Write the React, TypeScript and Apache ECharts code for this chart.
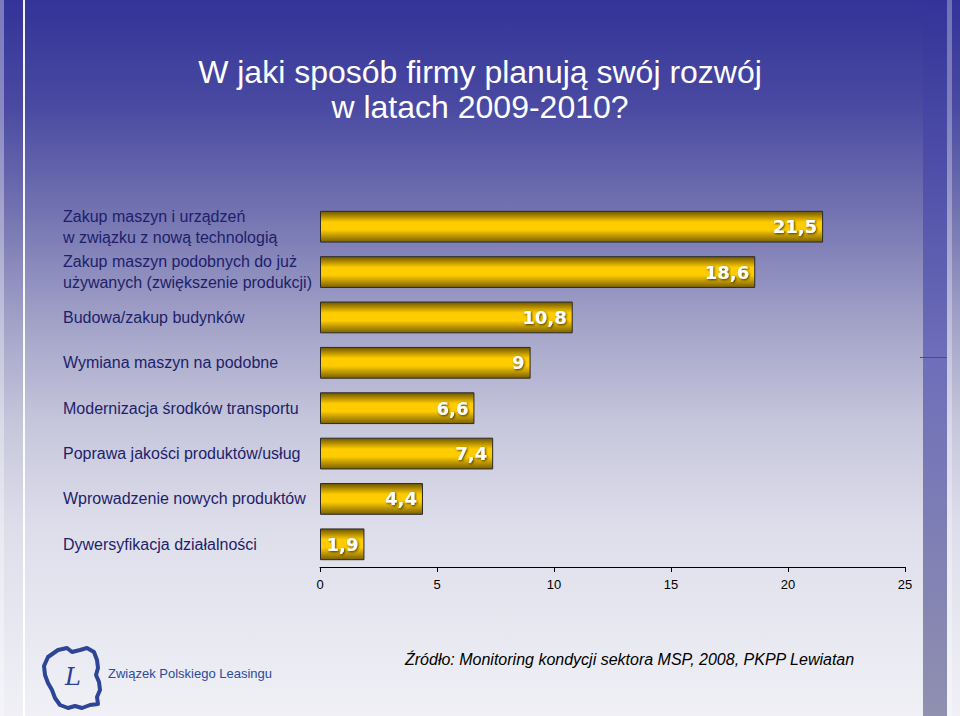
import React, { useEffect, useRef } from "react";
import * as echarts from "echarts";

const categories = [
  "Zakup maszyn i urządzeń\nw związku z nową technologią",
  "Zakup maszyn podobnych do już\nużywanych (zwiększenie produkcji)",
  "Budowa/zakup budynków",
  "Wymiana maszyn na podobne",
  "Modernizacja środków transportu",
  "Poprawa jakości produktów/usług",
  "Wprowadzenie nowych produktów",
  "Dywersyfikacja działalności",
];
const values = [21.5, 18.6, 10.8, 9, 6.6, 7.4, 4.4, 1.9];
const xTicks = [0, 5, 10, 15, 20, 25];
const titleLines = ["W jaki sposób firmy planują swój rozwój", "w latach 2009-2010?"];
const sourceText = "Źródło: Monitoring kondycji sektora MSP, 2008, PKPP Lewiatan";
const logoText = "Związek Polskiego Leasingu";

const polandOutline: number[][] = [
  [48, 657], [58, 650], [67, 648], [72, 652], [80, 650], [87, 648], [94, 652],
  [97, 660], [98, 668], [96, 675], [99, 682], [100, 690], [97, 697], [98, 704],
  [90, 705], [82, 708], [75, 706], [68, 708], [60, 705], [55, 698], [52, 690],
  [48, 683], [45, 675], [44, 666],
];

export default function App() {
  const ref = useRef<HTMLDivElement>(null);
  useEffect(() => {
    if (!ref.current) return;
    const chart = echarts.init(ref.current, null, { renderer: "svg" });
    const font = "'Liberation Sans', Arial, sans-serif";
    chart.setOption({
      animation: false,
      backgroundColor: new echarts.graphic.LinearGradient(0, 0, 0, 1, [
        { offset: 0, color: "#333399" },
        { offset: 0.15, color: "#4a4aa2" },
        { offset: 0.3, color: "#7474b2" },
        { offset: 0.45, color: "#a2a2c8" },
        { offset: 0.6, color: "#c8c8dd" },
        { offset: 0.75, color: "#dfdfec" },
        { offset: 1, color: "#f0f0f6" },
      ]),
      grid: {
        left: 320,
        right: 55,
        top: 204,
        bottom: 149,
        containLabel: false,
        outerBoundsMode: "none",
      },
      xAxis: {
        type: "value",
        min: 0,
        max: 25,
        interval: 5,
        axisLine: { show: true, lineStyle: { color: "#000", width: 1 } },
        axisTick: { show: true, length: 5, lineStyle: { color: "#000" } },
        splitLine: { show: false },
        axisLabel: {
          color: "#000",
          fontSize: 13,
          fontFamily: font,
          margin: 11,
          formatter: (v: number) => (xTicks.includes(v) ? String(v) : ""),
        },
      },
      yAxis: {
        type: "category",
        inverse: true,
        data: categories,
        axisLine: { show: false },
        axisTick: { show: false },
        axisLabel: {
          align: "left",
          margin: 257,
          color: "#1e1e6a",
          fontSize: 16,
          lineHeight: 21,
          fontFamily: font,
        },
      },
      series: [
        {
          type: "bar",
          data: values,
          barCategoryGap: "30%",
          itemStyle: {
            color: new echarts.graphic.LinearGradient(0, 0, 0, 1, [
              { offset: 0, color: "#6e5600" },
              { offset: 0.35, color: "#ffcc00" },
              { offset: 0.6, color: "#ffcc00" },
              { offset: 1, color: "#7a6000" },
            ]),
            borderColor: "#2a2a2a",
            borderWidth: 1,
          },
          label: {
            show: true,
            position: "insideRight",
            distance: 6,
            color: "#ffffff",
            fontSize: 18,
            fontWeight: "bold",
            fontFamily: "'DejaVu Sans', sans-serif",
            textShadowColor: "rgba(40,30,0,0.8)",
            textShadowBlur: 2,
            textShadowOffsetX: 1,
            textShadowOffsetY: 1,
            formatter: (p: any) => String(p.value).replace(".", ","),
          },
        },
      ],
      graphic: [
        {
          type: "rect",
          shape: { x: 0, y: 0, width: 4, height: 716 },
          style: { fill: "rgba(255,255,255,0.35)" },
          silent: true,
        },
        {
          type: "rect",
          shape: { x: 23, y: 0, width: 2, height: 716 },
          style: { fill: "rgba(255,255,255,0.95)" },
          silent: true,
        },
        {
          type: "rect",
          shape: { x: 923, y: 0, width: 24, height: 716 },
          style: {
            fill: new echarts.graphic.LinearGradient(0, 0, 0, 1, [
              { offset: 0, color: "#333399" },
              { offset: 0.5, color: "#6e6eba" },
              { offset: 1, color: "#9090b0" },
            ]),
          },
          silent: true,
        },
        {
          type: "rect",
          shape: { x: 947, y: 0, width: 5, height: 716 },
          style: { fill: "rgba(255,255,255,0.3)" },
          silent: true,
        },
        {
          type: "line",
          shape: { x1: 920, y1: 357.5, x2: 947, y2: 357.5 },
          style: { stroke: "#4a4a8e", lineWidth: 1 },
          silent: true,
        },
        {
          type: "text",
          x: 480,
          y: 72,
          style: {
            text: titleLines[0],
            fill: "#ffffff",
            fontSize: 32,
            fontFamily: font,
            align: "center",
            verticalAlign: "middle",
          },
        },
        {
          type: "text",
          x: 480,
          y: 107,
          style: {
            text: titleLines[1],
            fill: "#ffffff",
            fontSize: 32,
            fontFamily: font,
            align: "center",
            verticalAlign: "middle",
          },
        },
        {
          type: "text",
          x: 405,
          y: 659,
          style: {
            text: sourceText,
            fill: "#000000",
            fontSize: 16,
            fontStyle: "italic",
            fontFamily: font,
            align: "left",
            verticalAlign: "middle",
          },
        },
        {
          type: "polygon",
          shape: { points: polandOutline },
          style: { fill: "none", stroke: "#2d4596", lineWidth: 4, lineJoin: "round" },
          silent: true,
        },
        {
          type: "text",
          x: 73,
          y: 677,
          style: {
            text: "L",
            fill: "#2d3f8e",
            fontSize: 24,
            fontStyle: "italic",
            fontFamily: "'DejaVu Serif', serif",
            align: "center",
            verticalAlign: "middle",
          },
        },
        {
          type: "text",
          x: 108,
          y: 673,
          style: {
            text: logoText,
            fill: "#2d4a9c",
            fontSize: 13,
            fontFamily: font,
            align: "left",
            verticalAlign: "middle",
          },
        },
      ],
    });
    return () => chart.dispose();
  }, []);
  return (
    <div
      ref={ref}
      style={{ position: "absolute", left: 0, top: 0, width: 960, height: 716 }}
    />
  );
}
